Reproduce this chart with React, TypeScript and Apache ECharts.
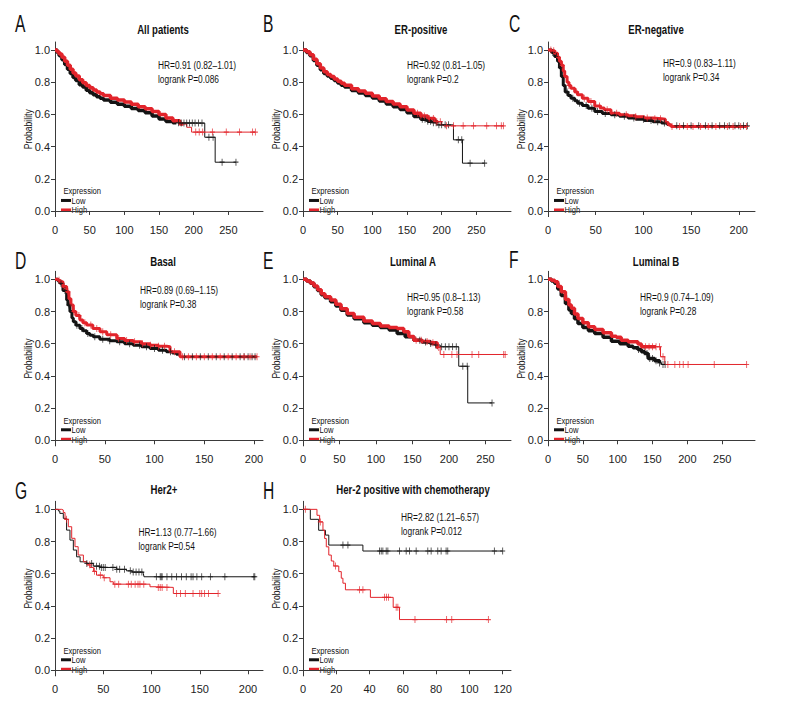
import { useEffect, useRef } from 'react';
import * as echarts from 'echarts';

const FONT = "'Liberation Sans', Arial, sans-serif";
const RED = '#e2242b';
const BLACK = '#141414';
const AXIS = '#3a3a3a';

// tick labels
const yTicks = [0, 0.2, 0.4, 0.6, 0.8, 1.0];
const xTicks250 = [0, 50, 100, 150, 200, 250];
const xTicks200 = [0, 50, 100, 150, 200];
const xTicks120 = [0, 20, 40, 60, 80, 100, 120];

// A: All patients
const aLow = [[0,1],[3,0.985],[6,0.965],[10,0.94],[14,0.91],[18,0.88],[22,0.855],[26,0.83],[30,0.81],[35,0.785],[40,0.77],[45,0.75],[50,0.735],[55,0.722],[60,0.71],[65,0.7],[70,0.69],[80,0.675],[90,0.663],[100,0.65],[110,0.637],[120,0.625],[130,0.61],[140,0.59],[150,0.572],[160,0.556],[170,0.548],[180,0.546],[216,0.458],[231,0.303],[261,0.303]];
const aHigh = [[0,1],[3,0.99],[6,0.975],[10,0.955],[14,0.93],[18,0.905],[22,0.88],[26,0.858],[30,0.838],[35,0.815],[40,0.797],[45,0.78],[50,0.765],[55,0.752],[60,0.74],[65,0.728],[70,0.718],[80,0.7],[90,0.69],[100,0.677],[110,0.663],[120,0.648],[130,0.635],[140,0.618],[150,0.6],[160,0.577],[170,0.56],[180,0.54],[190,0.52],[197,0.49],[289,0.49]];
const aLowCens = [178, 182, 186, 190, 194, 198, 202, 207, 212, 222, 228, 241, 261];
const aHighCens = [203, 208, 213, 227, 247, 266, 285, 289];

// B: ER-positive
const bLow = [[0,1],[5,0.985],[10,0.965],[15,0.935],[20,0.905],[25,0.878],[30,0.855],[35,0.838],[40,0.825],[45,0.81],[50,0.795],[55,0.782],[60,0.77],[70,0.748],[80,0.733],[90,0.718],[100,0.702],[110,0.684],[120,0.665],[130,0.648],[140,0.63],[150,0.61],[160,0.587],[170,0.57],[180,0.558],[185,0.548],[193,0.535],[217,0.442],[230,0.297],[262,0.297]];
const bHigh = [[0,1],[5,0.99],[10,0.97],[15,0.943],[20,0.915],[25,0.888],[30,0.865],[35,0.848],[40,0.835],[45,0.82],[50,0.806],[55,0.793],[60,0.782],[70,0.76],[80,0.745],[90,0.732],[100,0.715],[110,0.698],[120,0.68],[130,0.665],[140,0.648],[150,0.628],[160,0.608],[170,0.59],[180,0.575],[190,0.555],[200,0.535],[203,0.529],[289,0.529]];
const bLowCens = [172, 176, 180, 184, 188, 192, 196, 200, 205, 210, 224, 229, 241, 262];
const bHighCens = [165, 170, 175, 182, 188, 193, 198, 207, 217, 231, 246, 265, 279, 286, 289];

// C: ER-negative
const cLow = [[0,1],[4,0.985],[7,0.96],[10,0.93],[12,0.89],[14,0.836],[16,0.78],[18,0.74],[21,0.718],[24,0.7],[28,0.685],[31,0.67],[36,0.655],[42,0.639],[49,0.618],[57,0.605],[66,0.598],[75,0.588],[84,0.577],[92,0.57],[101,0.562],[110,0.555],[119,0.546],[125,0.538],[129,0.529],[209,0.529]];
const cHigh = [[0,1],[4,0.995],[7,0.98],[10,0.955],[12,0.93],[14,0.905],[16,0.87],[17.5,0.836],[20,0.8],[22,0.78],[24,0.763],[28,0.74],[31,0.722],[36,0.7],[42,0.68],[49,0.653],[55,0.64],[59,0.629],[66,0.608],[75,0.598],[84,0.591],[92,0.585],[101,0.577],[110,0.573],[119,0.57],[123,0.55],[126,0.535],[129,0.525],[208,0.525]];
const cLowCens = [5, 9, 13, 20, 26, 33, 40, 46, 52, 60, 70, 80, 90, 100, 108, 115, 122, 135, 142, 150, 158, 165, 172, 180, 185, 190, 196, 200, 205, 209];
const cHighCens = [3, 6, 11, 15, 22, 30, 38, 45, 54, 62, 72, 82, 92, 104, 112, 118, 130, 138, 146, 152, 160, 168, 176, 188, 194, 202, 208];

// D: Basal
const dLow = [[0,1],[3,0.99],[5,0.975],[8,0.93],[11.7,0.871],[13,0.84],[15,0.8],[17,0.76],[18.4,0.737],[21,0.715],[25,0.695],[28,0.68],[31.8,0.664],[35,0.652],[38.5,0.643],[45,0.627],[55,0.618],[62,0.612],[70,0.6],[78.7,0.591],[87,0.581],[95.5,0.571],[104,0.56],[112,0.55],[118,0.543],[122,0.535],[125.6,0.519],[201,0.519]];
const dHigh = [[0,1],[3,0.995],[5,0.985],[8,0.955],[11.7,0.923],[14,0.88],[16,0.84],[18.4,0.8],[21,0.775],[25,0.747],[28,0.73],[31.8,0.716],[38,0.695],[45.2,0.674],[52,0.655],[62,0.633],[70,0.62],[78.7,0.612],[87,0.6],[95.5,0.591],[104,0.585],[112,0.581],[115.6,0.55],[125.6,0.519],[203,0.519]];
const dLowCens = [6, 10, 14, 22, 27, 33, 40, 48, 55, 65, 75, 85, 92, 100, 108, 116, 130, 138, 146, 154, 162, 170, 178, 186, 190, 194, 198, 201];
const dHighCens = [4, 9, 13, 19, 24, 30, 36, 42, 48, 56, 64, 72, 80, 88, 96, 104, 110, 120, 128, 134, 142, 150, 158, 166, 174, 182, 190, 196, 203];

// E: Luminal A
const eLow = [[0,1],[5,0.99],[10,0.975],[15,0.954],[20,0.93],[25,0.905],[30,0.885],[37.8,0.861],[45,0.835],[52,0.808],[60.6,0.778],[70,0.755],[83.4,0.73],[95,0.715],[106,0.701],[118,0.685],[129,0.664],[140,0.643],[151.8,0.622],[163,0.61],[174.6,0.602],[182,0.592],[188,0.581],[213.4,0.46],[225.7,0.232],[259,0.232]];
const eHigh = [[0,1],[5,0.99],[10,0.977],[15,0.958],[20,0.935],[25,0.91],[30,0.892],[37.8,0.871],[45,0.845],[52,0.818],[60.6,0.788],[70,0.765],[83.4,0.741],[95,0.725],[106,0.71],[118,0.7],[129,0.695],[138,0.674],[145,0.645],[151.8,0.622],[163,0.614],[174.6,0.606],[183.8,0.577],[188,0.533],[277,0.533]];
const eLowCens = [160, 168, 175, 182, 190, 195, 200, 205, 210, 219, 225, 259];
const eHighCens = [155, 162, 170, 178, 186, 193, 204, 211, 231.6, 240.8, 275, 277];

// F: Luminal B
const fLow = [[0,1],[5,0.99],[9.6,0.975],[14,0.94],[19,0.9],[25,0.85],[30,0.81],[33.5,0.788],[38,0.755],[43,0.726],[50,0.7],[58,0.68],[67,0.664],[79,0.64],[91,0.616],[103,0.6],[115,0.585],[122,0.575],[129,0.564],[134,0.55],[139,0.539],[143.7,0.508],[153,0.494],[160,0.48],[163,0.471],[168,0.471]];
const fHigh = [[0,1],[5,0.995],[9.6,0.985],[14,0.955],[19,0.923],[25,0.875],[30,0.84],[33.5,0.82],[38,0.785],[43,0.757],[50,0.73],[58,0.705],[67,0.689],[79,0.668],[91,0.647],[98,0.64],[105,0.622],[115,0.612],[129,0.598],[134,0.581],[161.4,0.519],[167.6,0.471],[285,0.471]];
const fLowCens = [130, 138, 142, 146, 150, 155, 160, 165, 168];
const fHighCens = [140, 145, 150, 155, 160, 165, 172, 182, 189, 194, 201, 238.5, 285];

// G: Her2+
const gLow = [[0,1],[3.5,0.99],[5,0.975],[8.6,0.944],[12,0.871],[15.5,0.809],[19,0.747],[22.4,0.705],[26,0.674],[32.8,0.664],[39.7,0.647],[46.6,0.639],[64,0.627],[74,0.618],[80,0.61],[91.5,0.602],[92.2,0.581],[207,0.581]];
const gHigh = [[0,1],[7,0.996],[8.6,0.98],[10.4,0.938],[13.8,0.892],[17.3,0.82],[20.7,0.768],[24,0.716],[29.4,0.674],[33,0.655],[36.3,0.639],[40,0.615],[43,0.591],[50,0.575],[57,0.55],[60.4,0.535],[98.4,0.519],[105,0.515],[122.6,0.477],[169,0.477]];
const gLowCens = [33, 38, 43, 46, 48, 50, 52, 60, 64, 67, 72, 78, 81, 84, 87, 90, 105, 109, 110, 111, 116, 121, 126, 131, 136, 141, 143, 147, 152, 161, 176, 206, 207];
const gHighCens = [12, 36, 41, 47, 51, 62, 66, 76, 79, 83, 86, 88, 92, 107, 109, 111, 116, 126, 130, 135, 143, 150, 152, 155, 159, 169];

// H: Her-2 positive with chemotherapy
const hLow = [[0,1],[4.4,0.938],[9.4,0.87],[13.5,0.84],[15.5,0.778],[36,0.741],[120,0.741]];
const hHigh = [[0,1],[8.4,0.963],[10,0.922],[12,0.87],[13,0.819],[14,0.767],[15.5,0.716],[17,0.679],[18.5,0.648],[21.5,0.613],[23,0.572],[24,0.541],[25.5,0.5],[40.5,0.453],[54.2,0.391],[58,0.315],[111.4,0.315]];
const hLowCens = [24, 27, 46, 47, 48, 50, 51, 58, 62, 64, 68, 75, 77, 81, 83, 86, 87, 115, 120];
const hHighCens = [1.4, 10.4, 19.5, 34, 36, 49, 50.2, 51.4, 56, 57, 67.3, 86.3, 89.4, 111.4];

const ROW_TOP = [42, 271.3, 501.3];
const COL_LEFT = [55, 303, 548];
const COL_W = [208, 208, 207];
const GRID_H = 174.6;
const Y_MIN = -0.035;
const Y_MAX = 1.05;

const panels = [
  { letter: 'A', title: 'All patients', hr: 'HR=0.91 (0.82–1.01)', p: 'logrank P=0.086', low: aLow, high: aHigh, lowC: aLowCens, highC: aHighCens, xMax: 300, xTicks: xTicks250, row: 0, col: 0, lx: 15, ly: 24, tx: 163, ty: 30, hx: 158, hy: 65, dense: [175, 185], dw: 3.5 },
  { letter: 'B', title: 'ER-positive', hr: 'HR=0.92 (0.81–1.05)', p: 'logrank P=0.2', low: bLow, high: bHigh, lowC: bLowCens, highC: bHighCens, xMax: 300, xTicks: xTicks250, row: 0, col: 1, lx: 263, ly: 24, tx: 421, ty: 30, hx: 407, hy: 65, dense: [185, 195], dw: 3.5 },
  { letter: 'C', title: 'ER-negative', hr: 'HR=0.9 (0.83–1.11)', p: 'logrank P=0.34', low: cLow, high: cHigh, lowC: cLowCens, highC: cHighCens, xMax: 217, xTicks: xTicks200, row: 0, col: 2, lx: 509, ly: 24, tx: 656, ty: 30, hx: 663, hy: 63.5, dense: [128, 208], dw: 3 },
  { letter: 'D', title: 'Basal', hr: 'HR=0.89 (0.69–1.15)', p: 'logrank P=0.38', low: dLow, high: dHigh, lowC: dLowCens, highC: dHighCens, xMax: 209, xTicks: xTicks200, row: 1, col: 0, lx: 15, ly: 261, tx: 163, ty: 262, hx: 140, hy: 290, dense: [125, 203], dw: 3 },
  { letter: 'E', title: 'Luminal A', hr: 'HR=0.95 (0.8–1.13)', p: 'logrank P=0.58', low: eLow, high: eHigh, lowC: eLowCens, highC: eHighCens, xMax: 285, xTicks: xTicks250, row: 1, col: 1, lx: 263, ly: 261, tx: 413, ty: 262, hx: 407, hy: 297.5, dense: [185, 185], dw: 3.5 },
  { letter: 'F', title: 'Luminal B', hr: 'HR=0.9 (0.74–1.09)', p: 'logrank P=0.28', low: fLow, high: fHigh, lowC: fLowCens, highC: fHighCens, xMax: 297, xTicks: xTicks250, row: 1, col: 2, lx: 509, ly: 260, tx: 656, ty: 262, hx: 640, hy: 297.5, dense: [160, 155], dw: 3.5 },
  { letter: 'G', title: 'Her2+', hr: 'HR=1.13 (0.77–1.66)', p: 'logrank P=0.54', low: gLow, high: gHigh, lowC: gLowCens, highC: gHighCens, xMax: 215.5, xTicks: xTicks200, row: 2, col: 0, lx: 15, ly: 491, tx: 164, ty: 490, hx: 138.5, hy: 531.7, dense: null, dw: 1 },
  { letter: 'H', title: 'Her-2 positive with chemotherapy', hr: 'HR=2.82 (1.21–6.57)', p: 'logrank P=0.012', low: hLow, high: hHigh, lowC: hLowCens, highC: hHighCens, xMax: 125, xTicks: xTicks120, row: 2, col: 1, lx: 263, ly: 491, tx: 413, ty: 490, hx: 401, hy: 517.3, dense: null, dw: 1 },
];

function valueAt(curve: number[][], t: number) {
  let v = curve[0][1];
  for (const p of curve) {
    if (p[0] <= t) v = p[1];
    else break;
  }
  return v;
}

function clip(curve: number[][], tEnd: number) {
  const out = curve.filter((p) => p[0] < tEnd);
  out.push([tEnd, valueAt(curve, tEnd)]);
  return out;
}

const PLUS = 'path://M5,0L5,10M0,5L10,5';

function buildOption() {
  const grid: any[] = [];
  const xAxis: any[] = [];
  const yAxis: any[] = [];
  const series: any[] = [];
  const graphic: any[] = [];

  const txt = (text: string, x: number, y: number, size: number, sx: number, extra: any = {}, rot = 0) => ({
    type: 'text', x, y, scaleX: sx, rotation: rot, silent: true,
    style: { text, fontFamily: FONT, fontSize: size, fill: '#111', textAlign: 'left', textVerticalAlign: 'middle', ...extra },
  });

  panels.forEach((pn, i) => {
    const left = COL_LEFT[pn.col];
    const top = ROW_TOP[pn.row];
    const width = COL_W[pn.col];
    grid.push({ left, top, width, height: GRID_H, outerBoundsMode: 'none' });
    xAxis.push({
      type: 'value', gridIndex: i, min: 0, max: pn.xMax,
      axisLine: { show: true, lineStyle: { color: AXIS, width: 1 } },
      axisTick: { show: true, length: 4, customValues: pn.xTicks, lineStyle: { color: AXIS } },
      axisLabel: { customValues: pn.xTicks, fontFamily: FONT, fontSize: 11, color: '#222', margin: 8 },
      splitLine: { show: false },
    });
    yAxis.push({
      type: 'value', gridIndex: i, min: Y_MIN, max: Y_MAX,
      axisLine: { show: true, lineStyle: { color: AXIS, width: 1 } },
      axisTick: { show: true, length: 4, customValues: yTicks, lineStyle: { color: AXIS } },
      axisLabel: { customValues: yTicks, fontFamily: FONT, fontSize: 11, color: '#222', margin: 5, formatter: (v: number) => v.toFixed(1) },
      splitLine: { show: false },
    });

    const curves: [number[][], number[], string, number][] = [
      [pn.low, pn.lowC, BLACK, pn.dense ? pn.dense[0] : 0],
      [pn.high, pn.highC, RED, pn.dense ? pn.dense[1] : 0],
    ];
    curves.forEach(([curve, cens, color, dEnd]) => {
      series.push({
        type: 'line', xAxisIndex: i, yAxisIndex: i, data: curve, step: 'end', z: 2,
        showSymbol: false, symbol: 'none', lineStyle: { color, width: 1 }, silent: true,
      });
      if (dEnd > 0) {
        series.push({
          type: 'line', xAxisIndex: i, yAxisIndex: i, data: clip(curve, dEnd), step: 'end', z: 2,
          showSymbol: false, symbol: 'none', lineStyle: { color, width: pn.dw }, silent: true,
        });
      }
      series.push({
        type: 'scatter', xAxisIndex: i, yAxisIndex: i, z: 3,
        data: cens.map((t) => [t, valueAt(curve, t)]),
        symbol: PLUS, symbolSize: [5, 7],
        itemStyle: { color: 'rgba(0,0,0,0)', borderColor: color, borderWidth: 1 },
        silent: true,
      });
    });

    const y0 = top + (Y_MAX - 0) / (Y_MAX - Y_MIN) * GRID_H;
    graphic.push(txt(pn.letter, pn.lx, pn.ly, 23, 0.68));
    graphic.push(txt(pn.title, pn.tx, pn.ty, 12, 0.8, { fontWeight: 'bold', textAlign: 'center' }));
    graphic.push(txt(pn.hr, pn.hx, pn.hy, 11, 0.76));
    graphic.push(txt(pn.p, pn.hx, pn.hy + 14, 11, 0.76));
    graphic.push(txt('Probability', left - 27, top + GRID_H / 2, 11, 0.78, { textAlign: 'center' }, Math.PI / 2));
    graphic.push(txt('Expression', left + 8.5, y0 - 20, 9.5, 0.8));
    graphic.push({ type: 'line', silent: true, shape: { x1: left + 6, y1: y0 - 10.5, x2: left + 16, y2: y0 - 10.5 }, style: { stroke: BLACK, lineWidth: 3 } });
    graphic.push(txt('Low', left + 16.5, y0 - 10.5, 9.5, 0.8));
    graphic.push({ type: 'line', silent: true, shape: { x1: left + 6, y1: y0 - 1, x2: left + 16, y2: y0 - 1 }, style: { stroke: RED, lineWidth: 3 } });
    graphic.push(txt('High', left + 16.5, y0 - 1, 9.5, 0.8));
  });

  return { animation: false, backgroundColor: '#ffffff', grid, xAxis, yAxis, series, graphic };
}

export default function App() {
  const ref = useRef<HTMLDivElement>(null);
  useEffect(() => {
    if (!ref.current) return;
    const chart = echarts.init(ref.current, null, { renderer: 'svg' });
    chart.setOption(buildOption() as any);
    return () => chart.dispose();
  }, []);
  return <div ref={ref} style={{ position: 'fixed', left: 0, top: 0, width: 792, height: 720 }} />;
}
